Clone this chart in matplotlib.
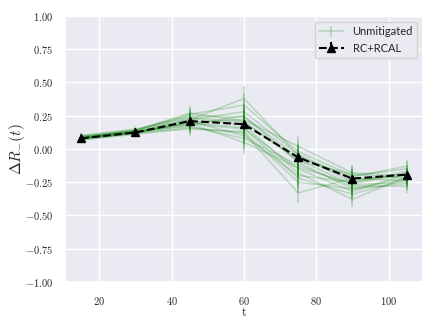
import matplotlib
matplotlib.use("Agg")
import matplotlib.pyplot as plt
import seaborn as sns

t = [15, 30, 45, 60, 75, 90, 105]

unmitigated = [
    [0.08, 0.13, 0.22, 0.38, -0.05, -0.25, -0.18],
    [0.09, 0.14, 0.26, 0.33, -0.02, -0.20, -0.15],
    [0.07, 0.12, 0.18, 0.25, -0.10, -0.30, -0.22],
    [0.08, 0.12, 0.20, 0.22, 0.02, -0.18, -0.20],
    [0.10, 0.15, 0.24, 0.20, -0.08, -0.27, -0.25],
    [0.08, 0.13, 0.19, 0.15, -0.15, -0.32, -0.19],
    [0.07, 0.11, 0.16, 0.12, -0.33, -0.22, -0.24],
    [0.09, 0.14, 0.23, 0.18, -0.18, -0.38, -0.21],
    [0.08, 0.12, 0.21, 0.10, -0.20, -0.25, -0.17],
    [0.09, 0.13, 0.17, 0.08, -0.12, -0.28, -0.28],
    [0.08, 0.14, 0.25, 0.24, -0.06, -0.21, -0.13],
    [0.07, 0.12, 0.20, 0.16, -0.22, -0.34, -0.23],
    [0.09, 0.13, 0.22, 0.28, -0.04, -0.23, -0.20],
    [0.08, 0.12, 0.15, 0.13, -0.25, -0.30, -0.26],
    [0.10, 0.14, 0.27, 0.21, -0.09, -0.19, -0.22],
    [0.08, 0.13, 0.19, 0.05, -0.14, -0.26, -0.19],
]
unmitigated_err = [0.02, 0.02, 0.05, 0.09, 0.08, 0.06, 0.05]

rc_rcal = [0.08, 0.124, 0.21, 0.186, -0.064, -0.223, -0.193]
rc_rcal_err = [0.01, 0.01, 0.01, 0.01, 0.01, 0.01, 0.01]

yticks = [-1.00, -0.75, -0.50, -0.25, 0.00, 0.25, 0.50, 0.75, 1.00]

sns.set_theme(style="darkgrid")
plt.rcParams['font.family'] = 'serif'
plt.rcParams['font.serif'] = ['cmr10']
plt.rcParams['mathtext.fontset'] = 'cm'
plt.rcParams['axes.formatter.use_mathtext'] = True
plt.rcParams['axes.unicode_minus'] = True

fig = plt.figure(figsize=(4.36, 3.27), dpi=100)
ax = fig.add_axes([0.149, 0.138, 0.821, 0.813])

for i, s in enumerate(unmitigated):
    ax.errorbar(t, s, yerr=unmitigated_err, color='green', alpha=0.2,
                lw=1.2, elinewidth=1.3, label='Unmitigated' if i == 0 else None)

ax.errorbar(t, rc_rcal, yerr=rc_rcal_err, color='black', ls='--', marker='^',
            markersize=6, lw=1.5, label='RC+RCAL')

ax.set_ylim(-1, 1)
ax.set_yticks(yticks)
ax.set_yticklabels([f"${v:.2f}$" for v in yticks])
ax.tick_params(labelsize=7.5)
ax.tick_params(axis='y', pad=2.5)
ax.set_xlabel('t', fontsize=9)
ax.xaxis.set_label_coords(0.5, -0.095)
ax.set_ylabel(r'$\Delta R_{-}(t)$', fontsize=11)
ax.yaxis.set_label_coords(-0.106, 0.5)
leg = ax.legend(loc='upper right', prop={'family': 'Lato', 'size': 8},
                handlelength=2.2)

fig.savefig('out.png', dpi=100)
